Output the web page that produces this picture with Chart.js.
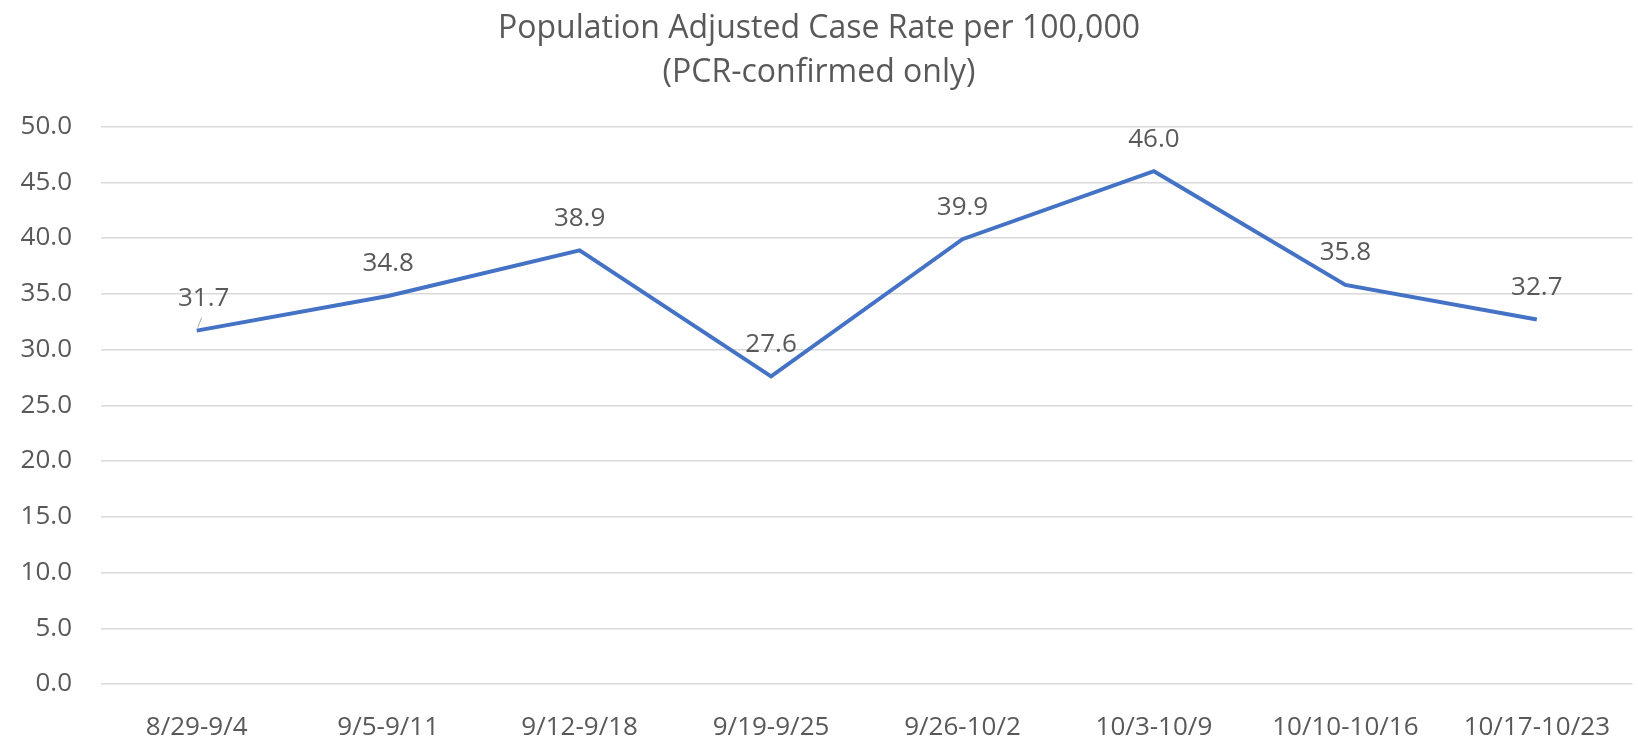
<!DOCTYPE html>
<html>
<head>
<meta charset="utf-8">
<script src="https://cdn.jsdelivr.net/npm/chart.js@4.4.1/dist/chart.umd.min.js"></script>
<style>
html,body{margin:0;padding:0;background:#fff;}
#wrap{width:1638px;height:744px;position:relative;}
</style>
</head>
<body>
<div id="wrap"><canvas id="c"></canvas></div>
<script>
'use strict';
// chart data
var weeks = ['8/29-9/4','9/5-9/11','9/12-9/18','9/19-9/25','9/26-10/2','10/3-10/9','10/10-10/16','10/17-10/23'];
var caseRate = [31.7, 34.8, 38.9, 27.6, 39.9, 46.0, 35.8, 32.7];
var titleLines = ['Population Adjusted Case Rate per 100,000', '(PCR-confirmed only)'];

var FONT = "'Open Sans', 'Noto Sans', sans-serif";
var GREY = '#595959';

// simple value labels above each point (no datalabels plugin available)
var pointLabels = {
    id: 'pointLabels',
    afterDatasetsDraw: function(chart) {
        var ctx = chart.ctx;
        var meta = chart.getDatasetMeta(0);
        ctx.save();
        ctx.font = '26px ' + FONT;
        ctx.fillStyle = GREY;
        ctx.textAlign = 'center';
        ctx.textBaseline = 'middle';
        meta.data.forEach(function(pt, i) {
            var dx = (i === 0) ? 7 : 0;
            if (i === 0) {
                // little leader line like the excel one
                ctx.strokeStyle = '#a6a6a6';
                ctx.lineWidth = 1;
                ctx.beginPath();
                ctx.moveTo(pt.x + 1, pt.y - 3);
                ctx.lineTo(pt.x + 5, pt.y - 13);
                ctx.stroke();
            }
            ctx.fillText(caseRate[i].toFixed(1), pt.x + dx, pt.y - 32);
        });
        ctx.restore();
    }
};

new Chart(document.getElementById('c'), {
    type: 'line',
    data: {
        labels: weeks,
        datasets: [{
            data: caseRate,
            borderColor: '#4472C4',
            borderWidth: 4,
            pointRadius: 0,
            tension: 0,
            fill: false
        }]
    },
    options: {
        responsive: true,
        maintainAspectRatio: false,
        animation: false,
        layout: { padding: 0 },
        plugins: {
            legend: { display: false },
            tooltip: { enabled: false },
            title: {
                display: true,
                text: titleLines,
                color: GREY,
                font: { family: FONT, size: 32, weight: 'normal', lineHeight: 1.4 },
                padding: { top: 6, bottom: 31 }
            }
        },
        scales: {
            x: {
                offset: true,
                grid: { display: false, drawTicks: false },
                border: { display: false },
                ticks: { color: GREY, font: { family: FONT, size: 26 }, padding: 28, maxRotation: 0, autoSkip: false },
                afterFit: function(s) { s.height = 60; }
            },
            y: {
                min: 0,
                max: 50,
                grid: { color: '#d9d9d9', lineWidth: 1.5, drawTicks: false },
                border: { display: false },
                ticks: {
                    stepSize: 5,
                    color: GREY,
                    padding: 29,
                    font: { family: FONT, size: 26 },
                    callback: function(v) { return v.toFixed(1); }
                },
                afterFit: function(s) { s.width = 101; }
            }
        }
    },
    plugins: [pointLabels]
});
</script>
</body>
</html>
